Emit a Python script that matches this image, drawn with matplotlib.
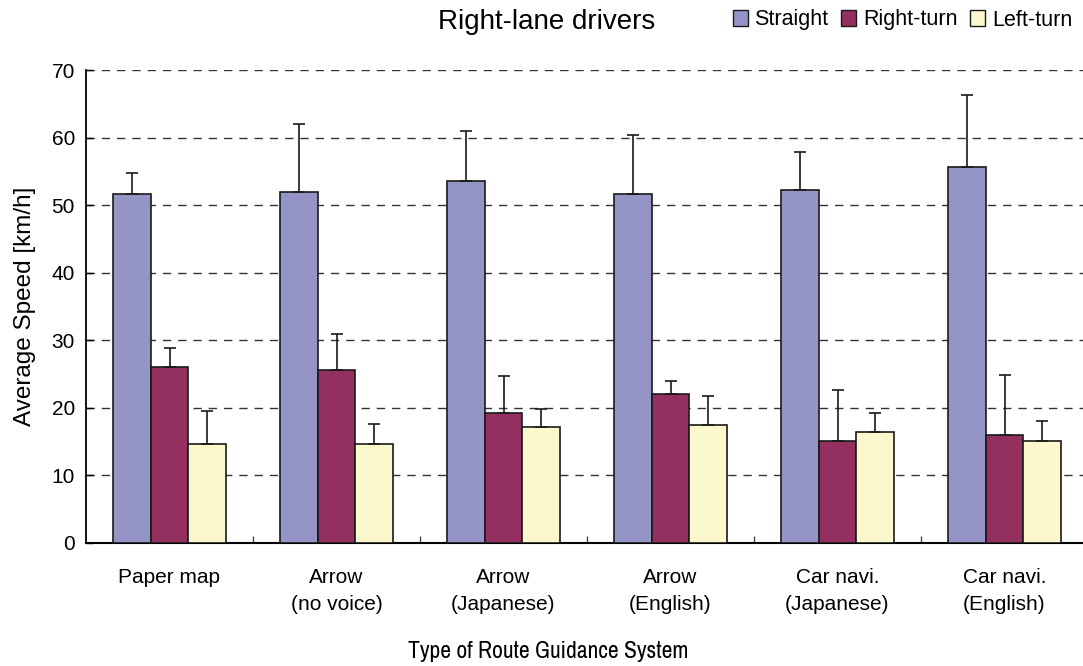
import matplotlib
matplotlib.use("Agg")
import matplotlib.pyplot as plt
import numpy as np
from matplotlib.patches import Patch

plt.rcParams['font.family'] = ['Liberation Sans', 'DejaVu Sans']

categories = ["Paper map", "Arrow\n(no voice)", "Arrow\n(Japanese)", "Arrow\n(English)",
              "Car navi.\n(Japanese)", "Car navi.\n(English)"]
series_names = ["Straight", "Right-turn", "Left-turn"]
straight = [51.7, 52.0, 53.6, 51.7, 52.2, 55.7]
right_turn = [26.1, 25.6, 19.3, 22.0, 15.1, 16.0]
left_turn = [14.7, 14.7, 17.1, 17.5, 16.4, 15.1]
straight_sd = [3.1, 10.0, 7.3, 8.7, 5.7, 10.6]
right_turn_sd = [2.7, 5.3, 5.4, 2.0, 7.5, 8.9]
left_turn_sd = [4.8, 2.9, 2.8, 4.3, 2.9, 3.0]
colors = ["#9494C6", "#933060", "#FAF8CC"]

fig = plt.figure(figsize=(10.83, 6.66), dpi=100)
ax = fig.add_axes([86 / 1083, (666 - 543) / 666, 1002 / 1083, 473 / 666])

x = np.arange(len(categories))
w = 0.225
values = [straight, right_turn, left_turn]
errs = [straight_sd, right_turn_sd, left_turn_sd]
for i, (v, e, c) in enumerate(zip(values, errs, colors)):
    pos = x + (i - 1) * w
    ax.bar(pos, v, width=w, color=c, edgecolor="#1a1a1a", linewidth=1.2, zorder=3)
    ax.errorbar(pos, v, yerr=[np.zeros(len(v)), e], fmt="none", ecolor="#1a1a1a",
                elinewidth=1.2, capsize=4, capthick=1.2, zorder=4)

ax.set_xlim(-0.5, len(categories) - 0.5)
ax.set_ylim(0, 70)
ax.set_yticks(np.arange(0, 71, 10))
ax.yaxis.grid(True, linestyle=(0, (6, 5)), color="#333333", linewidth=1.0, zorder=0)
ax.set_axisbelow(True)

# group separators as major ticks, category names on minor ticks
ax.set_xticks(x[:-1] + 0.5, minor=False)
ax.set_xticklabels([])
ax.tick_params(axis="x", direction="in", length=5, width=1, color="#444444")
ax.set_xticks(x, minor=True)
ax.set_xticklabels(categories, minor=True, fontsize=15, linespacing=1.5)
ax.tick_params(axis="x", which="minor", length=0, pad=18)
ax.tick_params(axis="y", direction="in", length=5, width=1, labelsize=15, pad=8)

for s in ["top", "right"]:
    ax.spines[s].set_visible(False)
ax.spines["left"].set_linewidth(1.3)
ax.spines["bottom"].set_linewidth(1.5)

ax.set_ylabel("Average Speed [km/h]", fontsize=17.5)
ax.yaxis.set_label_coords(-(86 - 25) / 1002, 0.5)
ax.yaxis.label.set_va("center")
fig.text(548 / 1083, 1 - 652 / 666, "Type of Route Guidance System", fontsize=17,
         family=["Archivo Narrow", "Liberation Sans", "DejaVu Sans"],
         ha="center", va="center")
fig.text(547 / 1083, 1 - 22 / 666, "Right-lane drivers", fontsize=20,
         ha="center", va="center")

handles = [Patch(facecolor=c, edgecolor="#1a1a1a", linewidth=1.0) for c in colors]
fig.legend(handles, series_names, loc="center right", bbox_to_anchor=(1072 / 1083, 1 - 20 / 666),
           ncol=3, frameon=False, fontsize=15.5, handlelength=0.7, handleheight=0.7,
           handletextpad=0.3, columnspacing=0.6, borderpad=0.0, borderaxespad=0.0)

fig.savefig("out.png", dpi=100)
